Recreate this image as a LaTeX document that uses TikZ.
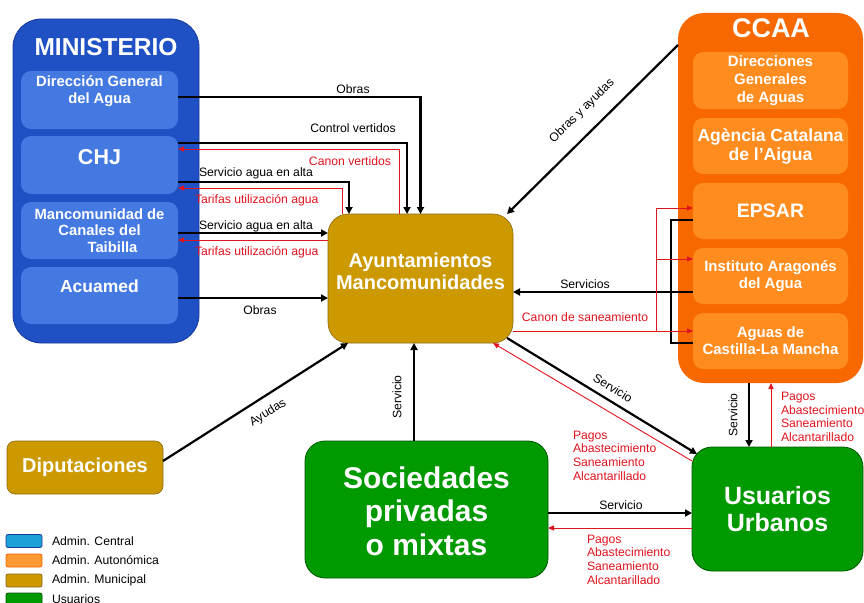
\documentclass[tikz,border=0pt]{standalone}
\usepackage{fontspec}
\setmainfont{Liberation Sans}
\usetikzlibrary{arrows.meta,calc}
\definecolor{minout}{HTML}{1F50C4}
\definecolor{minbd}{HTML}{1A3A9C}
\definecolor{minin}{HTML}{4479E2}
\definecolor{ccout}{HTML}{F76800}
\definecolor{ccin}{HTML}{FF8C1E}
\definecolor{ayuc}{HTML}{CC9900}
\definecolor{ayub}{HTML}{8A6A10}
\definecolor{grn}{HTML}{009900}
\definecolor{grnd}{HTML}{005A00}
\definecolor{rd}{HTML}{E0141E}
\definecolor{legc}{HTML}{1CA0D6}
\definecolor{lega}{HTML}{FF9933}
\pgfdeclareverticalshading{grnsh}{100bp}{color(0bp)=(grnd); color(12bp)=(grn!85!black); color(22bp)=(grn); color(100bp)=(grn)}
\begin{document}
\begin{tikzpicture}[x=1pt,y=-1pt,
  every node/.style={inner sep=0pt,outer sep=0pt},
  minouter/.style={draw=minbd,fill=minout,line width=0.8pt,rounded corners=28pt},
  mininner/.style={fill=minin,rounded corners=10pt,minimum width=157pt},
  ccouter/.style={fill=ccout,rounded corners=26pt},
  ccinner/.style={fill=ccin,rounded corners=10pt,minimum width=155pt,minimum height=56pt,
     text=white,align=center,font=\bfseries\fontsize{15}{17}\selectfont},
  wtxt/.style={text=white,align=center},
  munbox/.style={draw=ayub,fill=ayuc,line width=0.6pt},
  grnbox/.style={draw=grnd,line width=0.8pt,rounded corners=20pt,shading=grnsh},
  blk/.style={line width=2.2pt,-{Triangle[length=7pt,width=7pt]}},
  rda/.style={draw=rd,line width=0.9pt,-{Triangle[length=6pt,width=5pt]}},
  lbl/.style={font=\fontsize{12.2}{13.7}\selectfont},
  rlbl/.style={lbl,text=rd,align=left},
  legbox/.style={rounded corners=2pt,line width=0.8pt,minimum width=36pt,minimum height=13pt},
]
\useasboundingbox (0,0) rectangle (864,602);
\fill[white] (0,0) rectangle (864,602);

% ---------- MINISTERIO ----------
\node[minouter,minimum width=186pt,minimum height=324pt] (min) at (106,181) {};
\node[wtxt,font=\bfseries\fontsize{24.5}{26}\selectfont] (mint) at (106,47) {MINISTERIO};
\node[mininner,minimum height=58pt] (dga) at (99.5,100) {};
\node[mininner,minimum height=58pt] (chj) at (99.5,165) {};
\node[mininner,minimum height=57pt] (manc) at (99.5,230.5) {};
\node[mininner,minimum height=57pt] (acu) at (99.5,295.5) {};
\node[wtxt,font=\bfseries\fontsize{14.8}{17}\selectfont] (dgat) at (99.5,91.5) {Dirección General\\del Agua};
\node[wtxt,font=\bfseries\fontsize{21.5}{22}\selectfont] (chjt) at (99.5,157) {CHJ};
\node[wtxt,font=\bfseries\fontsize{14.8}{16.5}\selectfont] (manct) at (99.5,230.5) {Mancomunidad de\\Canales del\\\hspace*{26pt}Taibilla};
\node[wtxt,font=\bfseries\fontsize{17.5}{18}\selectfont] (acut) at (99.5,286) {Acuamed};

% ---------- CCAA ----------
\node[ccouter,minimum width=185pt,minimum height=370pt] (ccaa) at (770.5,198) {};
\node[wtxt,font=\bfseries\fontsize{27}{28}\selectfont] (ccaat) at (771,28) {CCAA};
\node[ccinner,minimum height=57pt,font=\bfseries\fontsize{15}{18}\selectfont] (dgaa) at (770.5,80.5) {Direcciones\\Generales\\de Aguas};
\node[ccinner,font=\bfseries\fontsize{17.5}{19}\selectfont] (acat) at (770.5,146) {Agència Catalana\\de l’Aigua};
\node[ccinner,font=\bfseries\fontsize{19.5}{20}\selectfont] (epsar) at (770.5,211) {EPSAR};
\node[ccinner] (iaa) at (770.5,276) {Instituto Aragonés\\del Agua};
\node[ccinner] (aclm) at (770.5,341) {Aguas de\\Castilla-La Mancha};

% ---------- Municipal ----------
\node[munbox,rounded corners=20pt,minimum width=185pt,minimum height=129pt] (ayu) at (420.5,278.5) {};
\node[wtxt,font=\bfseries\fontsize{20}{22}\selectfont] (ayut) at (420.5,271) {Ayuntamientos\\Mancomunidades};
\node[munbox,rounded corners=8pt,minimum width=156pt,minimum height=53pt,wtxt,font=\bfseries\fontsize{20}{20}\selectfont] (dip) at (85,467.5) {Diputaciones};

% ---------- Usuarios ----------
\node[grnbox,minimum width=243pt,minimum height=137pt] (soc) at (426.5,509.5) {};
\node[wtxt,font=\bfseries\fontsize{30}{33.5}\selectfont] (soct) at (426.5,511) {Sociedades\\privadas\\o mixtas};
\node[grnbox,minimum width=171pt,minimum height=124pt,wtxt,font=\bfseries\fontsize{25}{27}\selectfont] (usu) at (777.5,509) {Usuarios\\Urbanos};

% ---------- Connectors: Ministerio -> Ayuntamientos ----------
\draw[blk] ([yshift=3pt]dga.east) -| (ayu.north);
\draw[blk] ([yshift=-7pt]chj.north east) -| ([xshift=-13.5pt]ayu.north);
\draw[rda] ([xshift=-21.5pt]ayu.north) |- ([yshift=-13pt]chj.north east);
\draw[blk] ([yshift=12pt]chj.south east) -| ([xshift=-71.5pt]ayu.north);
\draw[rda] ([xshift=-78.5pt]ayu.north) |- ([yshift=6pt]chj.south east);
\coordinate (m1) at ([yshift=-2.5pt]manc.east);
\coordinate (m2) at ([yshift=-9.5pt]manc.east);
\coordinate (a1) at ([yshift=-2.5pt]acu.east);
\draw[blk] (m1) -- (m1 -| ayu.west);
\draw[rda] (m2 -| ayu.west) -- (m2);
\draw[blk] (a1) -- (a1 -| ayu.west);

\node[lbl] (l1) at (353,89) {Obras};
\node[lbl] (l2) at (353,128) {Control vertidos};
\node[lbl,text=rd] (l3) at (350,161) {Canon vertidos};
\node[lbl,anchor=west] (l4) at (199,173) {Servicio agua en alta};
\node[lbl,text=rd,anchor=west] (l5) at (195,200) {Tarifas utilización agua};
\node[lbl,anchor=west] (l6) at (199,226) {Servicio agua en alta};
\node[lbl,text=rd,anchor=west] (l7) at (195,252) {Tarifas utilización agua};
\node[lbl] (l8) at (260,310) {Obras};

% ---------- Connectors: CCAA ----------
\draw[blk] ([yshift=-32pt]ccaa.north west) -- ([xshift=-6pt]ayu.north east);
\node[lbl,rotate=44.5] (l9) at (582,111) {Obras y ayudas};
\draw[line width=2.2pt] ([yshift=-9pt]epsar.west) -- ++(-22,0) |- ([yshift=-2pt]aclm.west);
\coordinate (s1) at ([yshift=-16pt]iaa.west);
\draw[blk] (s1) -- (s1 -| ayu.east);
\node[lbl] (l10) at (585,284) {Servicios};
\coordinate (c1) at ([yshift=10pt]aclm.west);
\draw[rda] (c1 -| ayu.east) -- (c1);
\coordinate (c2) at ($(c1)+(-37,0)$);
\draw[rda] (c2) |- ([yshift=3pt]epsar.west);
\coordinate (i1) at ([yshift=17pt]iaa.west);
\draw[rda] (i1 -| c2) -- (i1);
\node[lbl,text=rd] (l11) at (585,317) {Canon de saneamiento};

% ---------- Connectors: lower part ----------
\draw[blk] ([yshift=6.5pt]dip.east) -- ([xshift=-72.5pt]ayu.south);
\node[lbl,rotate=32] (l12) at (268,413) {Ayudas};
\draw[blk] ([xshift=-12.5pt]soc.north) -- ([xshift=-6.5pt]ayu.south);
\node[lbl,rotate=90] (l13) at (397,397) {Servicio};
\draw[blk] ([xshift=-6pt,yshift=5pt]ayu.south east) -- ([xshift=5pt,yshift=-7pt]usu.north west);
\node[lbl,rotate=-31.4] (l14) at (613,388) {Servicio};
\draw[rda] ([yshift=-14pt]usu.north west) -- ([xshift=-20pt]ayu.south east);
\node[rlbl,anchor=west] (l15) at (573,455.5) {Pagos\\Abastecimiento\\Saneamiento\\Alcantarillado};
\coordinate (u1) at ([yshift=-3.5pt]soc.east);
\coordinate (u2) at ([yshift=-18.5pt]soc.east);
\draw[blk] (u1) -- (u1 -| usu.west);
\draw[rda] (u2 -| usu.west) -- (u2);
\node[lbl] (l16) at (621,505) {Servicio};
\node[rlbl,anchor=west] (l17) at (587,559.5) {Pagos\\Abastecimiento\\Saneamiento\\Alcantarillado};
\draw[blk] ([xshift=-21.5pt]ccaa.south) -- ([xshift=-28.5pt]usu.north);
\node[lbl,rotate=90] (l18) at (733,415) {Servicio};
\draw[rda] ([xshift=-6.5pt]usu.north) -- ([xshift=0.5pt]ccaa.south);
\node[rlbl,anchor=west] (l19) at (781,417) {Pagos\\Abastecimiento\\Saneamiento\\Alcantarillado};

% ---------- Legend ----------
\node[legbox,draw=minbd,fill=legc] (lg1) at (24,541) {};
\node[legbox,draw=ccout,fill=lega] (lg2) at (24,560.5) {};
\node[legbox,draw=ayub,fill=ayuc] (lg3) at (24,580.5) {};
\node[legbox,draw=grnd,fill=grn] (lg4) at (24,599.5) {};
\node[lbl,anchor=west] (lt1) at (52,541) {Admin. Central};
\node[lbl,anchor=west] (lt2) at (52,560.5) {Admin. Autonómica};
\node[lbl,anchor=west] (lt3) at (52,580.5) {Admin. Municipal};
\node[lbl,anchor=west] (lt4) at (52,599.5) {Usuarios};
\end{tikzpicture}
\end{document}
